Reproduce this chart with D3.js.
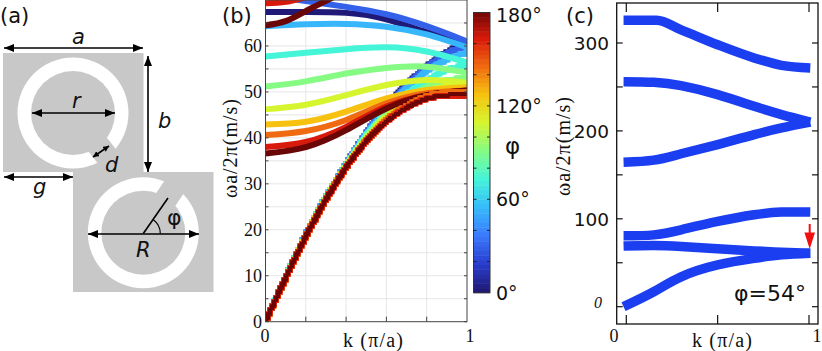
<!DOCTYPE html>
<html>
<head>
<meta charset="utf-8">
<script src="https://cdn.jsdelivr.net/npm/d3@7"></script>
<style>
  html, body { margin: 0; padding: 0; background: #fff; }
  text { fill: #111; }
</style>
</head>
<body>
<svg id="fig" width="822" height="351"></svg>
<script>
// panel (b) bands, one row per angle
const phiValues = [0, 28, 52, 72, 90, 108, 126, 144, 162, 180];
const kOptical = [0, 0.2, 0.4, 0.6, 0.8, 1];
const optical = [
  [67.4, 67.4, 67.2, 65.8, 63.0, 60.8],
  [71.0, 69.8, 68.5, 66.9, 64.3, 61.0],
  [64.3, 64.7, 64.8, 64.2, 62.5, 59.7],
  [57.7, 58.5, 59.3, 59.7, 58.8, 56.4],
  [51.2, 52.3, 54.0, 55.2, 55.5, 54.2],
  [46.2, 47.2, 49.3, 51.5, 52.6, 52.0],
  [42.9, 43.5, 45.7, 48.6, 50.4, 51.0],
  [40.6, 41.5, 43.9, 47.5, 49.7, 50.3],
  [38.0, 39.1, 42.4, 46.8, 49.3, 50.3],
  [36.6, 38.0, 41.7, 46.4, 49.3, 50.3]
];
const kAcoustic = [0, 0.1, 0.2, 0.3, 0.4, 0.5, 0.6, 0.7, 0.8, 0.9, 1];
const acoustic = [
  [0, 9.6, 18.8, 27, 34.2, 41, 46.7, 51.7, 55.5, 58.7, 60.5],
  [0, 9.6, 18.8, 27, 34.2, 41, 46.6, 51.5, 55.3, 58.4, 60.0],
  [0, 9.6, 18.8, 27, 34.2, 40.8, 46.2, 50.8, 54.5, 57.0, 58.5],
  [0, 9.6, 18.7, 27, 34, 40.5, 45.5, 49.5, 52.5, 54.8, 55.8],
  [0, 9.6, 18.7, 26.9, 34, 40.2, 45, 48.5, 51, 52.5, 53],
  [0, 9.5, 18.6, 26.8, 33.8, 39.8, 44.5, 47.8, 50, 51.2, 51.5],
  [0, 9.5, 18.6, 26.7, 33.7, 39.5, 44, 47.2, 49.4, 50.4, 50.5],
  [0, 9.5, 18.5, 26.6, 33.6, 39.3, 43.8, 46.9, 49, 49.9, 50],
  [0, 9.5, 18.5, 26.5, 33.5, 39.2, 43.6, 46.6, 48.5, 49.2, 49.3],
  [0, 9.5, 18.5, 26.5, 33.5, 39.2, 43.5, 46.5, 48.5, 49.3, 49.5]
];
// the two bands that leave the top of the plot
const kUpper = [0, 0.1, 0.2, 0.3, 0.4];
const upperRed = [69.3, 69.6, 70.6, 71.5, 72.5];
const upperDarkRed = [64.5, 65.4, 67.6, 69.8, 72];

// panel (c) bands at phi = 54
const kBands = [-0.015, 0.15, 0.3, 0.5, 0.7, 0.85, 1.007];
const band1 = [0, 17, 34, 47.5, 55, 59, 60.8];
const band2 = [69, 69.6, 68.4, 65.8, 63.5, 62, 60.8];
const band3 = [80.6, 81.7, 87.5, 97, 104.6, 107.6, 107.6];
const band4 = [164.4, 166.7, 174, 184.5, 195.8, 203.4, 210];
const band5 = [256, 255.3, 251.5, 241.3, 228, 218.6, 210];
const kTop = [-0.015, 0.166, 0.3, 0.5, 0.7, 0.85, 1.007];
const band6 = [325.8, 325.8, 315, 298, 283, 274.6, 271.6];

const jetStops = ["#1f1a78", "#2a3fd0", "#3b7cff", "#38bdfb", "#45f5d8", "#86fb84", "#d6f52f", "#f6c20f", "#ef6a10", "#d81a0c", "#6b0606"];
const jet = d3.scaleLinear().domain(d3.range(11).map(d => d * 18)).range(jetStops);

const svg = d3.select("#fig");
const serif = "'Liberation Serif', serif";
const sans = "'DejaVu Sans', sans-serif";

function label(x, y, str, size, opts) {
  opts = opts || {};
  const t = svg.append("text")
    .attr("x", x).attr("y", y)
    .attr("font-family", opts.family || sans)
    .attr("font-size", size)
    .attr("font-style", opts.italic ? "italic" : "normal")
    .attr("text-anchor", opts.anchor || "start")
    .attr("transform", opts.rotate ? `rotate(${opts.rotate} ${x} ${y})` : null)
    .text(str);
  if (opts.len) t.attr("textLength", opts.len).attr("lengthAdjust", "spacing");
  return t;
}

// ---------- (a) schematic ----------
const defs = svg.append("defs");
function arrowHead(id, w, h) {
  defs.append("marker").attr("id", id).attr("viewBox", `0 0 ${w} ${h}`)
    .attr("refX", w).attr("refY", h / 2).attr("markerWidth", w).attr("markerHeight", h)
    .attr("markerUnits", "userSpaceOnUse").attr("orient", "auto-start-reverse")
    .append("path").attr("d", `M0,0L${w},${h / 2}L0,${h}Z`).attr("fill", "#000");
}
arrowHead("head", 10, 8);
arrowHead("headS", 6, 6);

function unitCell(x0, y0, w, h, cx, cy, gapAngle) {
  const g = svg.append("g");
  g.append("rect").attr("x", x0).attr("y", y0).attr("width", w).attr("height", h).attr("fill", "#c8c8c8");
  g.append("circle").attr("cx", cx).attr("cy", cy).attr("r", 55.5).attr("fill", "#fff");
  // gap has parallel sides, so it is a rotated bar not a wedge
  g.append("rect").attr("x", 30).attr("y", -11.5).attr("width", 30).attr("height", 23).attr("fill", "#c8c8c8")
    .attr("transform", `translate(${cx},${cy}) rotate(${gapAngle})`);
  g.append("circle").attr("cx", cx).attr("cy", cy).attr("r", 42).attr("fill", "#c8c8c8");
}
unitCell(3, 53, 140.5, 119, 73, 113, 52);
unitCell(73, 172, 140.5, 120, 143.3, 232.7, -56);

function dimension(x1, y1, x2, y2, head) {
  svg.append("line").attr("x1", x1).attr("y1", y1).attr("x2", x2).attr("y2", y2)
    .attr("stroke", "#000").attr("stroke-width", 1.6)
    .attr("marker-start", `url(#${head || "head"})`).attr("marker-end", `url(#${head || "head"})`);
}
dimension(4, 48, 143, 48);
dimension(148, 56, 148, 172);
dimension(4, 177, 73, 177);
dimension(32, 113, 115, 113);
dimension(93, 157, 109, 146, "headS");
dimension(88, 234, 199, 234);
svg.append("path").attr("d", "M143.3,233.5L168,198").attr("stroke", "#000").attr("stroke-width", 1.6).attr("fill", "none");
svg.append("path")
  .attr("d", d3.arc().innerRadius(17).outerRadius(17).startAngle(Math.PI / 2).endAngle(Math.PI * 0.2)())
  .attr("transform", "translate(143.3,233.5)").attr("stroke", "#000").attr("stroke-width", 1.2).attr("fill", "none");

label(0, 23, "(a)", 21);
label(72, 43.5, "a", 21, { italic: true });
label(158, 127.5, "b", 21, { italic: true });
label(72, 108, "r", 21, { italic: true });
label(105, 172, "d", 21, { italic: true });
label(33, 194, "g", 21, { italic: true });
label(136, 256.5, "R", 21, { italic: true });
label(167, 225, "φ", 22);

// ---------- (b) ----------
const bx = d3.scaleLinear().domain([0, 1]).range([265.5, 467]);
const by = d3.scaleLinear().domain([0, 70]).range([321.7, 0]);
const bg = svg.append("g");
svg.append("defs").append("clipPath").attr("id", "clipB").append("rect")
  .attr("x", 265.5).attr("y", 0).attr("width", 201.5).attr("height", 321.7);

const bGrid = d3.range(5, 70, 5);
const kGrid = [0.2, 0.4, 0.6, 0.8];
bg.selectAll("line.gy").data(bGrid).join("line").attr("class", "gy")
  .attr("x1", bx(0)).attr("x2", bx(1)).attr("y1", d => by(d)).attr("y2", d => by(d))
  .attr("stroke", "#e6e6e6").attr("stroke-width", 1);
bg.selectAll("line.gx").data(kGrid).join("line").attr("class", "gx")
  .attr("y1", by(0)).attr("y2", by(70)).attr("x1", d => bx(d)).attr("x2", d => bx(d))
  .attr("stroke", "#e6e6e6").attr("stroke-width", 1);

const bLine = d3.line().x(d => bx(d[0])).y(d => by(d[1])).curve(d3.curveNatural);
const bands = bg.append("g").attr("clip-path", "url(#clipB)").attr("fill", "none");
function bBand(ks, vs, color, width) {
  bands.append("path").attr("d", bLine(ks.map((k, i) => [k, vs[i]])))
    .attr("stroke", color).attr("stroke-width", width);
}
// lower band looks pixelated in the original, so stamp squares along the curve
function bStairs(ks, vs, color, size) {
  const p = bands.append("path").attr("d", bLine(ks.map((k, i) => [k, vs[i]])));
  const node = p.node(), len = node.getTotalLength(), cell = 2;
  const spots = d3.range(0, len, 1).map(s => {
    const pt = node.getPointAtLength(s);
    return [Math.round(pt.x / cell) * cell, Math.round(pt.y / cell) * cell];
  });
  p.remove();
  bands.append("g").attr("fill", color).selectAll("rect").data(spots).join("rect")
    .attr("x", d => d[0] - size / 2).attr("y", d => d[1] - size / 2)
    .attr("width", size).attr("height", size);
}
acoustic.forEach((vs, i) => { if (i < 8) bStairs(kAcoustic, vs, jet(phiValues[i]), 5); });
optical.forEach((vs, i) => bBand(kOptical, vs, jet(phiValues[i]), 6));
bBand(kUpper, upperRed, jet(162), 6);
bBand(kUpper, upperDarkRed, jet(180), 6);
// dark red lower band stays on top in the original
bStairs(kAcoustic, acoustic[7], jet(144), 5.4);
bStairs(kAcoustic, acoustic[8], jet(162), 5);
bStairs(kAcoustic, acoustic[9], jet(180), 3.6);

bg.append("rect").attr("x", bx(0)).attr("y", 0).attr("width", bx(1) - bx(0)).attr("height", by(0))
  .attr("fill", "none").attr("stroke", "#444").attr("stroke-width", 1);
const bTicksY = d3.range(0, 70, 5);
bg.selectAll("line.ty").data(bTicksY).join("line").attr("class", "ty")
  .attr("x1", bx(1) - 3).attr("x2", bx(1)).attr("y1", d => by(d)).attr("y2", d => by(d)).attr("stroke", "#444");
bg.selectAll("line.tl").data(bTicksY).join("line").attr("class", "tl")
  .attr("x1", bx(0)).attr("x2", bx(0) + 3).attr("y1", d => by(d)).attr("y2", d => by(d)).attr("stroke", "#444");
bg.selectAll("line.tx").data(kGrid).join("line").attr("class", "tx")
  .attr("y1", by(0) - 5).attr("y2", by(0)).attr("x1", d => bx(d)).attr("x2", d => bx(d)).attr("stroke", "#444");

const bLabels = [0, 10, 20, 30, 40, 50, 60];
bLabels.forEach(d => label(262, by(d) + 6, d, 18, { family: serif, anchor: "end" }));
label(265, 342, "0", 18, { family: serif, anchor: "middle" });
label(470, 342, "1", 18, { family: serif, anchor: "middle" });
label(373, 346.5, "k (π/a)", 20, { family: serif, anchor: "middle", len: 60 });
label(237, 148.5, "ωa/2π(m/s)", 20, { family: serif, anchor: "middle", rotate: -90, len: 99 });
label(222, 23, "(b)", 21);

// colour bar
const cbY = d3.scaleLinear().domain([0, 180]).range([292.7, 12.5]);
const cbSteps = d3.range(0, 180, 3);
svg.selectAll("rect.cb").data(cbSteps).join("rect").attr("class", "cb")
  .attr("x", 473.5).attr("width", 16.5)
  .attr("y", d => cbY(d + 3)).attr("height", d => cbY(d) - cbY(d + 3) + 0.5)
  .attr("fill", d => jet(d));
svg.append("rect").attr("x", 473.5).attr("y", 12.5).attr("width", 16.5).attr("height", 280.2)
  .attr("fill", "none").attr("stroke", "#333");
const cbTicks = d3.range(20, 180, 20);
cbTicks.forEach(d => {
  svg.append("line").attr("x1", 473.5).attr("x2", 476.5).attr("y1", cbY(d)).attr("y2", cbY(d)).attr("stroke", "#222");
  svg.append("line").attr("x1", 487).attr("x2", 490).attr("y1", cbY(d)).attr("y2", cbY(d)).attr("stroke", "#222");
});
const cbLabels = [0, 60, 120, 180];
cbLabels.forEach(d => label(496, cbY(d) + (d == 180 ? 9 : 7), d + "°", 19));
label(505, 154, "φ", 23);

// ---------- (c) ----------
const cx = d3.scaleLinear().domain([0, 1]).range([626.3, 809]);
const cy = d3.scaleLinear().domain([0, 300]).range([306.7, 43]);
const cg = svg.append("g");
function cBand(ks, vs, curve) {
  const line = d3.line().x(d => cx(d[0])).y(d => cy(d[1])).curve(curve);
  cg.append("path").attr("d", line(ks.map((k, i) => [k, vs[i]])))
    .attr("fill", "none").attr("stroke", "#1a3ef0").attr("stroke-width", 9.5);
}
[band1, band2, band3, band4, band5].forEach(vs => cBand(kBands, vs, d3.curveNatural));
// top band has a real corner where the flat part ends
cBand(kTop, band6, d3.curveMonotoneX);

cg.append("rect").attr("x", 616.7).attr("y", 3).attr("width", 201.3).attr("height", 321)
  .attr("fill", "none").attr("stroke", "#111").attr("stroke-width", 1.3);
const cTicksY = d3.range(0, 350, 50);
cg.selectAll("line.ly").data(cTicksY).join("line").attr("class", "ly")
  .attr("x1", 616.7).attr("x2", 622.7).attr("y1", d => cy(d)).attr("y2", d => cy(d)).attr("stroke", "#111").attr("stroke-width", 1.2);
cg.selectAll("line.ry").data(cTicksY).join("line").attr("class", "ry")
  .attr("x1", 812).attr("x2", 818).attr("y1", d => cy(d)).attr("y2", d => cy(d)).attr("stroke", "#111").attr("stroke-width", 1.2);
const cTicksX = [0, 0.5, 1];
cg.selectAll("line.bx").data(cTicksX).join("line").attr("class", "bx")
  .attr("x1", d => cx(d)).attr("x2", d => cx(d)).attr("y1", 315).attr("y2", 324).attr("stroke", "#111").attr("stroke-width", 1.2);
cg.selectAll("line.tx").data(cTicksX).join("line").attr("class", "tx")
  .attr("x1", d => cx(d)).attr("x2", d => cx(d)).attr("y1", 3).attr("y2", 12).attr("stroke", "#111").attr("stroke-width", 1.2);

const cLabels = [100, 200, 300];
cLabels.forEach(d => label(609, cy(d) + 7, d, 18.5, { anchor: "end" }));
label(598, 307.5, "0", 16, { family: serif, italic: true, anchor: "middle" });
label(614, 342, "0", 18, { family: serif, anchor: "middle" });
label(817, 342, "1", 18, { family: serif, anchor: "middle" });
label(722, 346.5, "k (π/a)", 20, { family: serif, anchor: "middle", len: 60 });
label(570, 146.5, "ωa/2π(m/s)", 20, { family: serif, anchor: "middle", rotate: -90, len: 99 });
label(566, 23, "(c)", 21);
label(734, 301, "φ=54°", 22);

// red arrow
svg.append("path").attr("d", "M808.7,224H810.7V232.5H815L809.7,249L804.4,232.5H808.7Z").attr("fill", "#f01010");
</script>
</body>
</html>
